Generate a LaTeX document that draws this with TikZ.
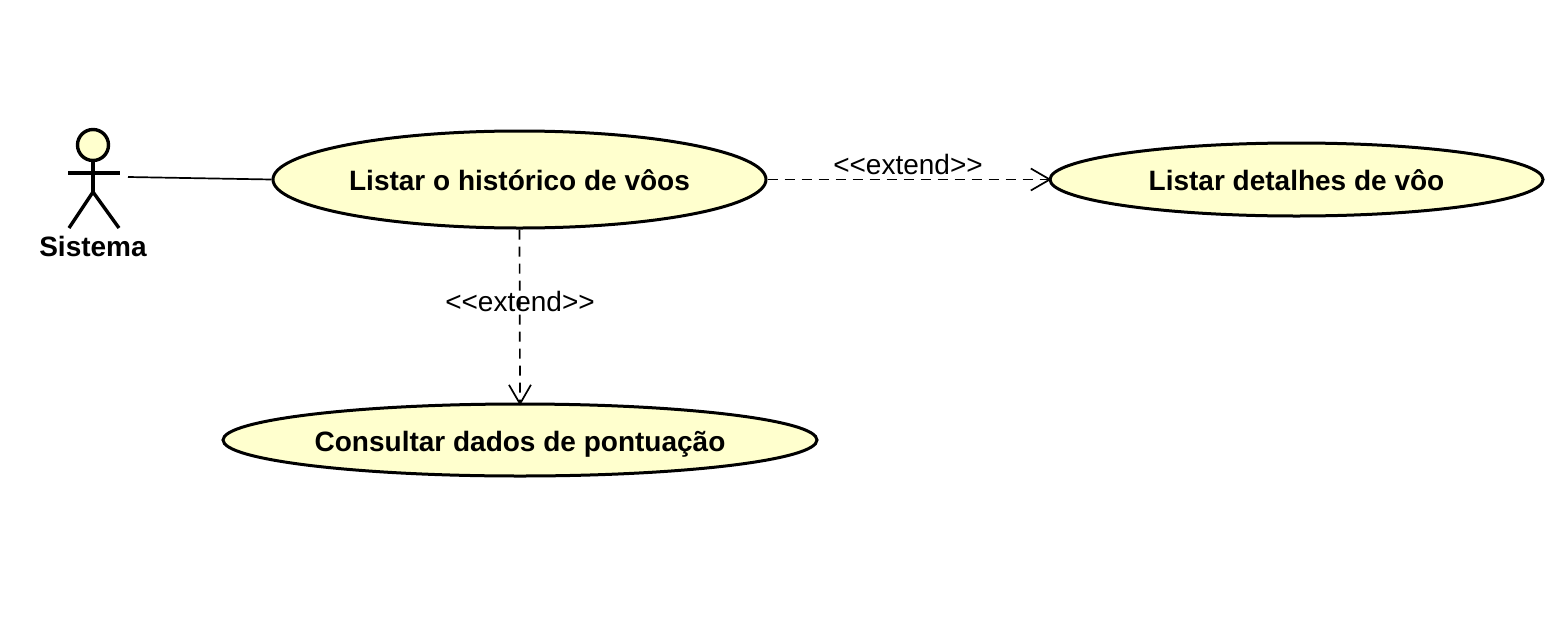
\documentclass[tikz,border=0pt]{standalone}
\usepackage{fontspec}
\setmainfont{Liberation Sans}
\usetikzlibrary{shapes.geometric,arrows.meta}
\definecolor{ucfill}{RGB}{255,255,206}

\begin{document}
\begin{tikzpicture}[x=1pt,y=-1pt,usecase/.style={shape=ellipse,draw=black,line width=3pt,fill=ucfill,inner sep=0pt,text height=28pt,text depth=6pt,font=\fontsize{28}{32}\selectfont\bfseries},actorline/.style={line width=3.4pt},assoc/.style={line width=1.7pt},extendline/.style={line width=1.7pt,dash pattern=on 10pt off 7pt,shorten >=-3pt,-{Straight Barb[length=19pt,width=22pt,line width=1.7pt]}},extendlabel/.style={inner sep=0pt,font=\fontsize{28}{32}\selectfont}]
\useasboundingbox (0,0) rectangle (1557,632);
\def\ax{93};

\node[usecase,minimum width=493pt,minimum height=97pt] (L) at (519.5,179.5) {Listar o histórico de vôos};
\node[usecase,minimum width=493pt,minimum height=73pt] (D) at (1296.5,179.5) {Listar detalhes de vôo};
\node[usecase,minimum width=594pt,minimum height=72pt] (C) at (520,440) {Consultar dados de pontuação};

\node[shape=circle,draw=black,line width=3.4pt,fill=ucfill,inner sep=0pt,minimum size=31pt] (head) at (\ax,145) {};
\coordinate (hip) at (\ax,192);
\coordinate (armL) at (68,173);
\coordinate (armR) at (120,173);
\coordinate (legL) at (69,228);
\coordinate (legR) at (119,228);
\coordinate (hand) at (128,177);
\draw[actorline] (head.south) -- (hip);
\draw[actorline] (armL) -- (armR);
\draw[actorline] (legL) -- (hip) -- (legR);
\node[inner sep=0pt,font=\fontsize{28}{32}\selectfont\bfseries] (S) at (\ax,246) {Sistema};

\draw[assoc] (hand) -- (L.west);
\draw[extendline] (L.east) -- (D.west);
\draw[extendline] (L.south) -- (C.north);
\node[extendlabel] (E1) at (908,164) {<{}<extend>{}>};
\node[extendlabel] (E2) at (520,301) {<{}<extend>{}>};
\end{tikzpicture}
\end{document}
